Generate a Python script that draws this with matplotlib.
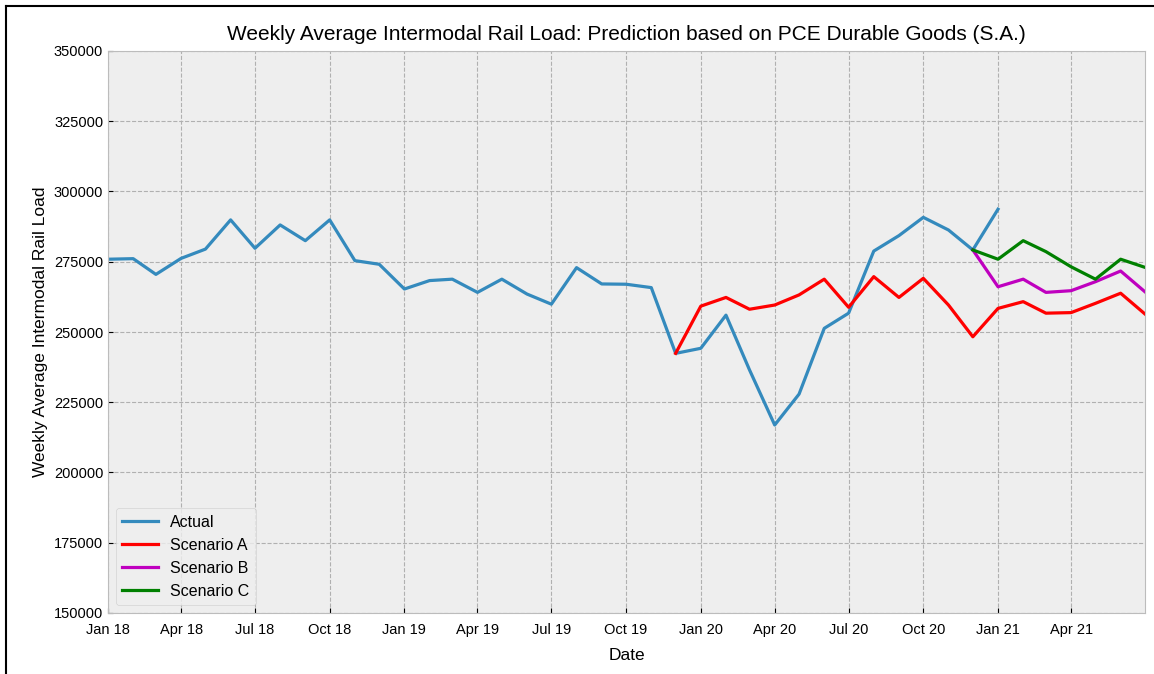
import numpy as np
import pandas as pd
import matplotlib
matplotlib.use("Agg")
import matplotlib.pyplot as plt
import matplotlib.dates as mdates
from matplotlib.lines import Line2D

# monthly values
actual_dates = pd.date_range("2018-01-01", "2021-01-01", freq="MS")
actual = [275900, 276100, 270500, 276200, 279500, 289900, 279800, 288100, 282500,
          289900, 275400, 274100, 265300, 268300, 268800, 264100, 268800, 263500,
          259900, 272900, 267100, 267000, 265800, 242400, 244200, 256000, 236500,
          216900, 227900, 251300, 256700, 278800, 284300, 290800, 286300, 279200,
          293700]

a_dates = pd.date_range("2019-12-01", "2021-07-01", freq="MS")
scen_a = [242400, 259200, 262300, 258100, 259600, 263200, 268800, 258800, 269700,
          262300, 269100, 259600, 248300, 258400, 260800, 256700, 256900, 260200,
          263800, 256400]

bc_dates = pd.date_range("2020-12-01", "2021-07-01", freq="MS")
scen_b = [279200, 266100, 268800, 264100, 264700, 267900, 271700, 264300]
scen_c = [279200, 275900, 282500, 278600, 273200, 268800, 275900, 273000]

tick_dates = pd.date_range("2018-01-01", "2021-04-01", freq="QS")

plt.style.use("bmh")
plt.rcParams['font.family'] = ['Liberation Sans', 'DejaVu Sans']

fig = plt.figure(figsize=(11.54, 6.74), dpi=100)
ax = fig.add_axes([108/1154, 1-613/674, (1145-108)/1154, (613-51)/674])

ax.plot(actual_dates, actual, color="#348ABD", lw=2.3, label="Actual")
ax.plot(a_dates, scen_a, color="red", lw=2.3, label="Scenario A")
ax.plot(bc_dates, scen_b, color="m", lw=2.3, label="Scenario B")
ax.plot(bc_dates, scen_c, color="green", lw=2.3, label="Scenario C")

ax.set_xlim(actual_dates[0], a_dates[-1])
ax.set_ylim(150000, 350000)
ax.set_yticks(np.arange(150000, 350001, 25000))
ax.set_xticks(tick_dates)
ax.xaxis.set_major_formatter(mdates.DateFormatter("%b %y"))
ax.tick_params(labelsize=10.5)
ax.tick_params(axis="x", pad=7)
ax.grid(True, linestyle="--", color="#b0b0b0", lw=0.8)

ax.set_title("Weekly Average Intermodal Rail Load: Prediction based on PCE Durable Goods (S.A.)",
             fontsize=15, pad=8)
ax.set_xlabel("Date", fontsize=12.5, labelpad=8)
ax.set_ylabel("Weekly Average Intermodal Rail Load", fontsize=12.5)
ax.legend(loc="lower left", fontsize=11.5, handlelength=2.2)

# black frame of the screenshot
fig.add_artist(Line2D([6/1154, 6/1154], [0, 1-6/674], color="black", lw=1.5,
                      transform=fig.transFigure))
fig.add_artist(Line2D([6/1154, 1], [1-6/674, 1-6/674], color="black", lw=1.5,
                      transform=fig.transFigure))

fig.savefig("out.png", dpi=100)
